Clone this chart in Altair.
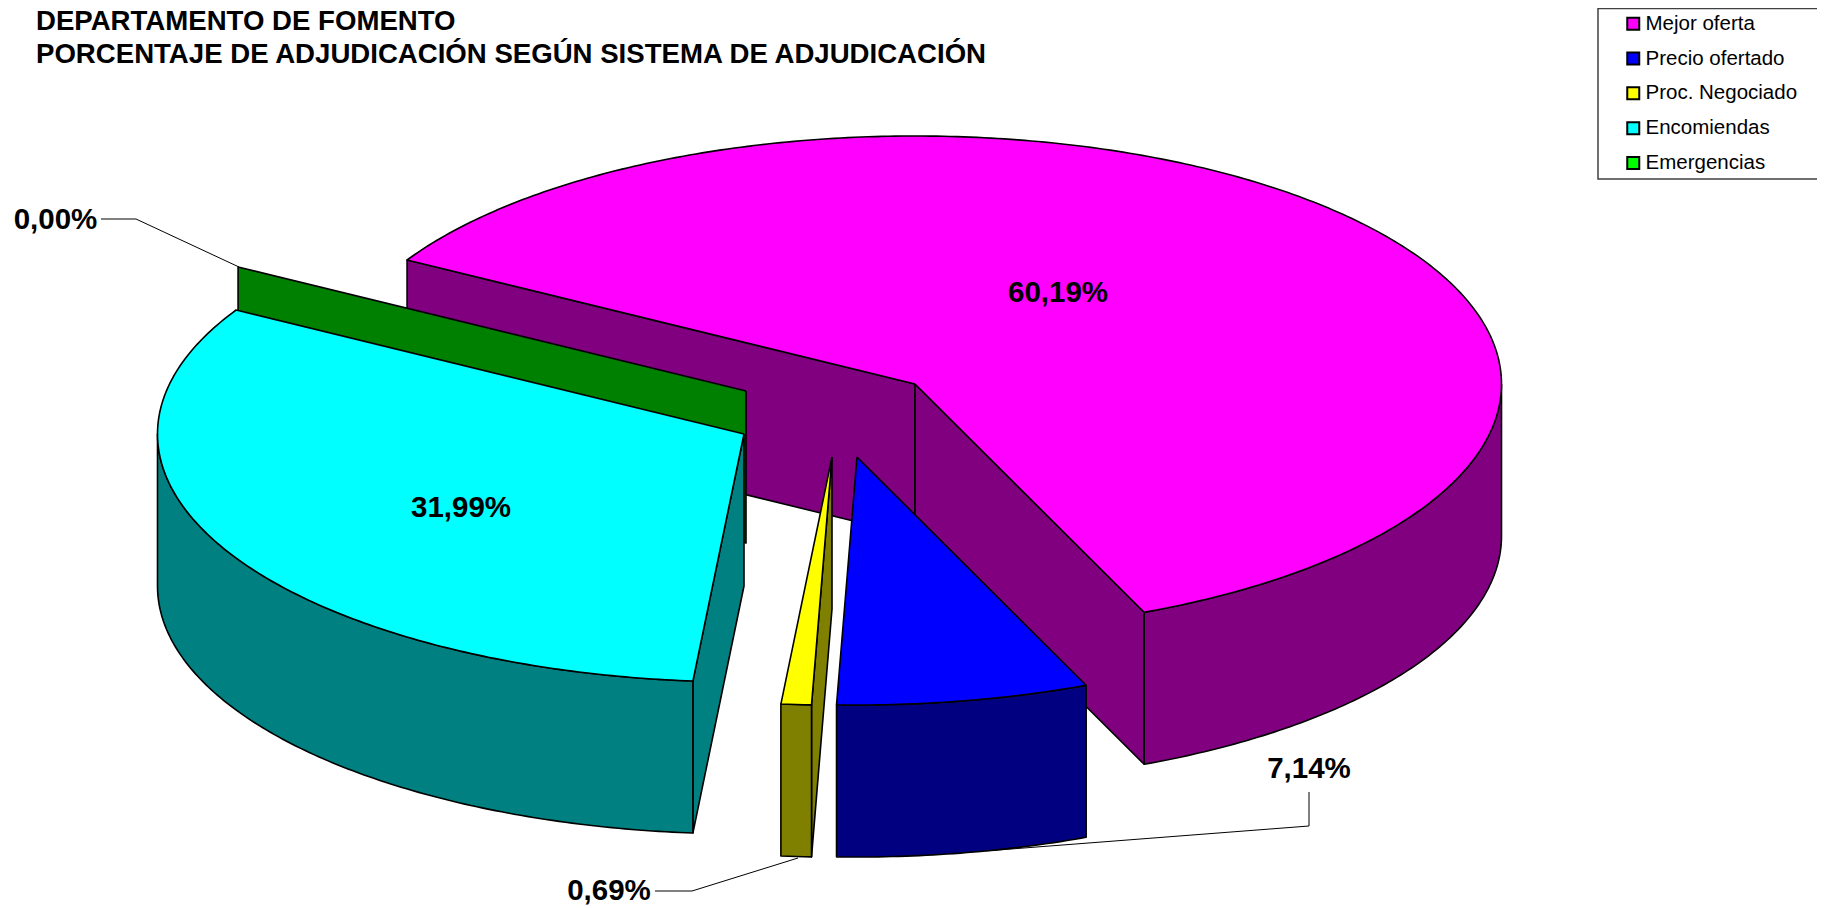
import math
import altair as alt
import pandas as pd

# ---- data
categories = ["Mejor oferta", "Precio ofertado", "Proc. Negociado", "Encomiendas", "Emergencias"]
share_labels = ["60,19%", "7,14%", "0,69%", "31,99%", "0,00%"]
slice_degrees = [217.0, 25.0, 3.0, 115.0, 0.0]   # slice angles as drawn in the picture
top_colors = ["#FF00FF", "#0000FF", "#FFFF00", "#00FFFF", "#00FF00"]
wall_colors = ["#800080", "#000080", "#808000", "#008080", "#008000"]
title_lines = ["DEPARTAMENTO DE FOMENTO",
               "PORCENTAJE DE ADJUDICACIÓN SEGÚN SISTEMA DE ADJUDICACIÓN"]

# ---- layout of the tilted pie, in reference pixels
W, H = 1809, 897
OX, OY = 8, 8
RX, RY, DEPTH = 586.5, 248.0, 152.0
START = -60.0
apex = {0: (915, 384), 1: (857, 457), 2: (832, 457), 3: (744, 434), 4: (746, 391)}
label_pos = {0: (1058, 302), 1: (1309, 778), 2: (609, 900), 3: (461, 517), 4: (55.5, 229)}
leaders = {
    1: [(1309, 792), (1309, 826), (985, 851)],
    2: [(655, 891), (692, 891), (798, 858)],
    4: [(101, 219), (136, 219), (239, 267)],
}

xs = alt.Scale(domain=[OX, OX + W], range=[0, W], nice=False, zero=False)
ys = alt.Scale(domain=[OY + H, OY], range=[H, 0], nice=False, zero=False)
X = alt.X("x:Q", scale=xs, axis=None)
Y = alt.Y("y:Q", scale=ys, axis=None)

bounds = []
a = START
for s in slice_degrees:
    b = a + s
    bounds.append((a, b))
    a = b


def rim(i, deg, dy=0.0):
    t = math.radians(deg)
    cx, cy = apex[i]
    return (cx + RX * math.sin(t), cy - RY * math.cos(t) + dy)


def arc(i, d0, d1, dy=0.0):
    n = max(2, int(abs(d1 - d0) * 1.5))
    return [rim(i, d0 + (d1 - d0) * k / n, dy) for k in range(n + 1)]


def poly(points, fill, sw=1.6):
    pts = list(points) + [points[0]]
    df = pd.DataFrame({"x": [p[0] for p in pts], "y": [p[1] for p in pts], "i": range(len(pts))})
    return alt.Chart(df).mark_line(fill=fill, stroke="#000000", strokeWidth=sw, strokeJoin="round",
                                   interpolate="linear").encode(x=X, y=Y, order=alt.Order("i:Q"))


def top(i):
    a0, a1 = bounds[i]
    return poly([apex[i]] + arc(i, a0, a1), top_colors[i])


def radial_wall(i, deg):
    p = apex[i]
    r = rim(i, deg)
    return poly([p, r, (r[0], r[1] + DEPTH), (p[0], p[1] + DEPTH)], wall_colors[i])


def outer_wall(i, d0, d1):
    up = arc(i, d0, d1)
    lo = arc(i, d1, d0, DEPTH)
    return poly(up + lo, wall_colors[i])


layers = []
# Mejor oferta
layers += [radial_wall(0, bounds[0][0]), radial_wall(0, bounds[0][1]),
           outer_wall(0, 90, bounds[0][1]), top(0)]
# Emergencias: only its cut face shows
layers += [radial_wall(4, bounds[4][0])]
# Encomiendas
layers += [radial_wall(3, bounds[3][0]), outer_wall(3, bounds[3][0], 270), top(3)]
# Proc. Negociado
layers += [radial_wall(2, bounds[2][0]), outer_wall(2, bounds[2][0], bounds[2][1]), top(2)]
# Precio ofertado
layers += [outer_wall(1, bounds[1][0], bounds[1][1]), top(1)]

# leader lines
for i, pts in leaders.items():
    df = pd.DataFrame({"x": [p[0] for p in pts], "y": [p[1] for p in pts], "i": range(len(pts))})
    layers.append(alt.Chart(df).mark_line(stroke="#000000", strokeWidth=1).encode(x=X, y=Y, order=alt.Order("i:Q")))

# percentage labels
lab = pd.DataFrame({"x": [label_pos[i][0] for i in range(5)], "y": [label_pos[i][1] for i in range(5)],
                    "t": share_labels})
layers.append(alt.Chart(lab).mark_text(font="Liberation Sans", fontWeight="bold", fontSize=29.5, color="#000000",
                                       align="center", baseline="alphabetic").encode(x=X, y=Y, text="t:N"))

# title
tit = pd.DataFrame({"x": [36, 36], "y": [30, 63], "t": title_lines})
layers.append(alt.Chart(tit).mark_text(font="Liberation Sans", fontWeight="bold", fontSize=27.6, color="#000000",
                                       align="left", baseline="alphabetic").encode(x=X, y=Y, text="t:N"))

# legend frame
box = pd.DataFrame({"x": [1598], "x2": [1830], "y": [8.5], "y2": [179]})
layers.append(alt.Chart(box).mark_rect(fill="#FFFFFF", stroke="#404040", strokeWidth=1.5).encode(
    x=X, x2="x2:Q", y=Y, y2="y2:Q"))

# legend, carried by a hidden point per category
pts = pd.DataFrame({"cat": categories, "x": [apex[i][0] for i in range(5)], "y": [apex[i][1] for i in range(5)]})
layers.append(alt.Chart(pts).mark_square(opacity=0, filled=True).encode(
    x=X, y=Y,
    color=alt.Color("cat:N", scale=alt.Scale(domain=categories, range=top_colors), sort=categories,
                    legend=alt.Legend(orient="none", legendX=1615, legendY=5.5, title=None, symbolType="square",
                                      symbolSize=144, symbolStrokeWidth=2, symbolStrokeColor="#000000",
                                      labelFont="Liberation Sans", labelFontSize=20.5, labelColor="#000000",
                                      labelOffset=2, rowPadding=13.8, padding=0))))

chart = alt.layer(*layers).properties(
    width=W, height=H, padding=0, autosize=alt.AutoSizeParams(type="none", contains="padding"),
    background="#FFFFFF",
).configure_view(stroke=None)

chart.save("out.html", embed_options={"renderer": "svg", "actions": False})
